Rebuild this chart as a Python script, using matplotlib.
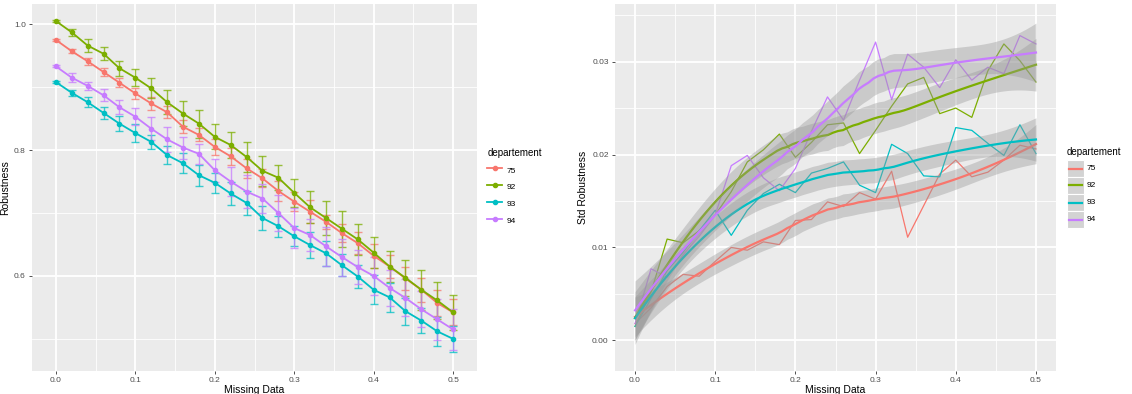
import numpy as np
import matplotlib
matplotlib.use("Agg")
import matplotlib.pyplot as plt
from matplotlib.lines import Line2D
from matplotlib.patches import Rectangle

plt.rcParams['font.family'] = ['Liberation Sans', 'DejaVu Sans']

# ---------------------------------------------------------------- data
missing = [0.00, 0.02, 0.04, 0.06, 0.08, 0.10, 0.12, 0.14, 0.16, 0.18, 0.20, 0.22, 0.24,
           0.26, 0.28, 0.30, 0.32, 0.34, 0.36, 0.38, 0.40, 0.42, 0.44, 0.46, 0.48, 0.50]
departements = ["75", "92", "93", "94"]
colors = ["#F8766D", "#7CAE00", "#00BFC4", "#C77CFF"]

# mean robustness
rob_75 = [0.975, 0.957, 0.941, 0.924, 0.907, 0.890, 0.874, 0.860, 0.837, 0.824, 0.805, 0.790, 0.771,
          0.755, 0.735, 0.718, 0.702, 0.686, 0.668, 0.652, 0.632, 0.615, 0.596, 0.578, 0.557, 0.542]
rob_92 = [1.005, 0.987, 0.966, 0.953, 0.930, 0.915, 0.898, 0.876, 0.858, 0.842, 0.821, 0.808, 0.789,
          0.767, 0.756, 0.732, 0.709, 0.692, 0.675, 0.658, 0.637, 0.615, 0.597, 0.578, 0.561, 0.542]
rob_93 = [0.908, 0.891, 0.876, 0.859, 0.842, 0.827, 0.813, 0.792, 0.779, 0.760, 0.748, 0.731, 0.716,
          0.692, 0.679, 0.663, 0.649, 0.636, 0.617, 0.599, 0.578, 0.566, 0.544, 0.529, 0.512, 0.500]
rob_94 = [0.933, 0.915, 0.902, 0.887, 0.868, 0.853, 0.834, 0.817, 0.804, 0.794, 0.768, 0.750, 0.734,
          0.723, 0.700, 0.676, 0.665, 0.647, 0.630, 0.614, 0.600, 0.581, 0.565, 0.547, 0.531, 0.515]

# std of robustness
std_75 = [0.0018, 0.0035, 0.0058, 0.0071, 0.0069, 0.0085, 0.0100, 0.0097, 0.0106, 0.0103, 0.0129, 0.0130, 0.0149,
          0.0144, 0.0159, 0.0152, 0.0182, 0.0111, 0.0145, 0.0179, 0.0194, 0.0176, 0.0181, 0.0194, 0.0210, 0.0206]
std_92 = [0.0015, 0.0052, 0.0109, 0.0105, 0.0118, 0.0135, 0.0160, 0.0192, 0.0205, 0.0222, 0.0197, 0.0213, 0.0232,
          0.0234, 0.0201, 0.0226, 0.0252, 0.0276, 0.0283, 0.0244, 0.0250, 0.0240, 0.0290, 0.0319, 0.0301, 0.0278]
std_93 = [0.0015, 0.0045, 0.0075, 0.0095, 0.0118, 0.0140, 0.0113, 0.0140, 0.0158, 0.0168, 0.0159, 0.0180, 0.0185,
          0.0192, 0.0167, 0.0159, 0.0211, 0.0201, 0.0177, 0.0176, 0.0229, 0.0226, 0.0212, 0.0199, 0.0232, 0.0201]
std_94 = [0.0018, 0.0077, 0.0068, 0.0092, 0.0112, 0.0135, 0.0188, 0.0199, 0.0175, 0.0161, 0.0185, 0.0225, 0.0262,
          0.0237, 0.0280, 0.0321, 0.0259, 0.0308, 0.0294, 0.0272, 0.0302, 0.0280, 0.0294, 0.0287, 0.0328, 0.0319]

rob = [rob_75, rob_92, rob_93, rob_94]
std = [std_75, std_92, std_93, std_94]


# ---------------------------------------------------------------- loess (like geom_smooth)
def loess(x, y, xs, span=0.75):
    x = np.asarray(x); y = np.asarray(y)
    n = len(x)
    q = int(np.floor(n * span))

    def row(x0):
        d = np.abs(x - x0)
        h = np.sort(d)[q - 1]
        u = np.clip(d / h, 0, 1)
        w = (1 - u ** 3) ** 3
        X = np.column_stack([np.ones(n), x - x0, (x - x0) ** 2])
        A = X.T @ (w[:, None] * X)
        return (np.linalg.solve(A, X.T * w))[0]

    L = np.array([row(x0) for x0 in x])
    res = y - L @ y
    I = np.eye(n)
    M = (I - L).T @ (I - L)
    sigma = np.sqrt(np.sum(res ** 2) / np.trace(M))
    Ls = np.array([row(x0) for x0 in xs])
    fit = Ls @ y
    se = sigma * np.sqrt(np.sum(Ls ** 2, axis=1))
    return fit, se


def ggtheme(ax):
    ax.set_facecolor("#EBEBEB")
    for s in ax.spines.values():
        s.set_visible(False)
    ax.grid(which="major", color="white", lw=1.3)
    ax.grid(which="minor", color="white", lw=0.6)
    ax.set_axisbelow(True)
    ax.tick_params(which="major", length=2, width=0.6, color="#333333",
                   labelsize=6, labelcolor="#4D4D4D", pad=2.5)
    ax.tick_params(which="minor", length=0)


W, H = 1132, 394
fig = plt.figure(figsize=(W / 100, H / 100), dpi=100)

# ---------------------------------------------------------------- left panel
ax1 = fig.add_axes([32 / W, 23 / H, 445 / W, 367 / H])
ggtheme(ax1)
for r, s, c in zip(rob, std, colors):
    ax1.errorbar(missing, r, yerr=s, fmt="none", ecolor=c, elinewidth=1.0,
                 capsize=3, capthick=1.0, alpha=0.75, zorder=2)
for r, c in zip(rob, colors):
    ax1.plot(missing, r, color=c, lw=1.3, marker="o", ms=3, zorder=3)
ax1.set_xlim(-0.030, 0.530)
ax1.set_ylim(0.449, 1.032)
ax1.set_xticks([0.0, 0.1, 0.2, 0.3, 0.4, 0.5])
ax1.set_xticks([0.05, 0.15, 0.25, 0.35, 0.45], minor=True)
ax1.set_yticks([0.6, 0.8, 1.0])
ax1.set_yticks([0.5, 0.7, 0.9], minor=True)
ax1.set_xticklabels(["0.0", "0.1", "0.2", "0.3", "0.4", "0.5"])
ax1.set_yticklabels(["0.6", "0.8", "1.0"])
ax1.set_xlabel("Missing Data", fontsize=7.5, labelpad=0.5)
ax1.set_ylabel("Robustness", fontsize=7.5, labelpad=3)

h1 = [Line2D([], [], color=c, lw=1.3, marker="o", ms=3) for c in colors]
leg1 = fig.legend(h1, departements, title="departement", loc="upper left",
                  bbox_to_anchor=(484 / W, 1 - 145 / H), frameon=False,
                  fontsize=6, title_fontsize=7, handlelength=1.8, handleheight=1.6,
                  labelspacing=0.73, handletextpad=0.5, borderaxespad=0)
leg1._legend_box.align = "left"

# ---------------------------------------------------------------- right panel
ax2 = fig.add_axes([615 / W, 23 / H, 441 / W, 367 / H])
ggtheme(ax2)
xs = np.linspace(0, 0.5, 80)
for s, c in zip(std, colors):
    ax2.plot(missing, s, color=c, lw=0.9, zorder=2)
for s, c in zip(std, colors):
    fit, se = loess(missing, s, xs)
    ax2.fill_between(xs, fit - 2.07 * se, fit + 2.07 * se, color="#999999",
                     alpha=0.4, lw=0, zorder=3)
    ax2.plot(xs, fit, color=c, lw=1.6, zorder=3)
ax2.set_xlim(-0.025, 0.525)
ax2.set_ylim(-0.0033, 0.0362)
ax2.set_xticks([0.0, 0.1, 0.2, 0.3, 0.4, 0.5])
ax2.set_xticks([0.05, 0.15, 0.25, 0.35, 0.45], minor=True)
ax2.set_yticks([0.0, 0.01, 0.02, 0.03])
ax2.set_yticks([0.005, 0.015, 0.025, 0.035], minor=True)
ax2.set_xticklabels(["0.0", "0.1", "0.2", "0.3", "0.4", "0.5"])
ax2.set_yticklabels(["0.00", "0.01", "0.02", "0.03"])
ax2.set_xlabel("Missing Data", fontsize=7.5, labelpad=0.5)
ax2.set_ylabel("Std Robustness", fontsize=7.5, labelpad=3)

# legend of the right panel, drawn by hand (grey key boxes like geom_smooth)
lx, ly, kw, kh = 1067, 160, 17, 17
fig.text(lx / W, 1 - 152 / H, "departement", fontsize=7, color="black", va="center", ha="left")
for i, (lab, c) in enumerate(zip(departements, colors)):
    top = ly + i * kh
    fig.add_artist(Rectangle((lx / W, 1 - (top + kh) / H), kw / W, kh / H,
                             transform=fig.transFigure, facecolor="#D3D3D3",
                             edgecolor="white", lw=0.8))
    yc = 1 - (top + kh / 2) / H
    fig.add_artist(Line2D([(lx + 2) / W, (lx + kw - 2) / W], [yc, yc],
                          transform=fig.transFigure, color=c, lw=1.6))
    fig.text((lx + kw + 3) / W, yc, lab, fontsize=6, color="black", va="center", ha="left")

fig.savefig("out.png", dpi=100)
